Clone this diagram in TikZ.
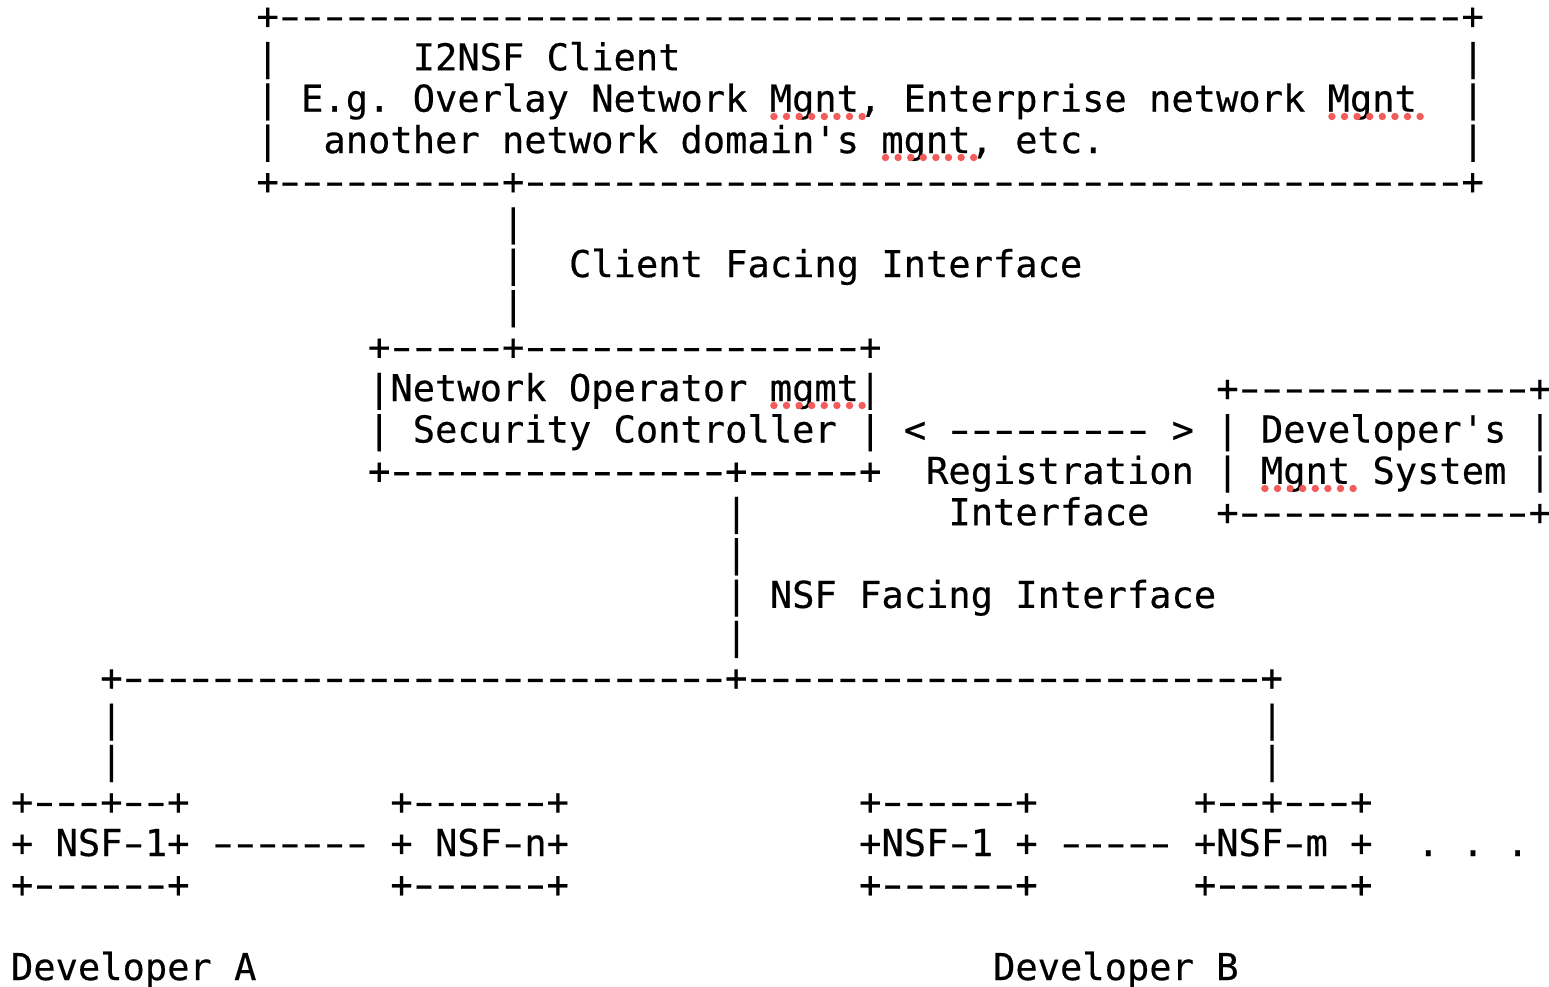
\documentclass[tikz,border=0pt]{standalone}
\usepackage{fontspec}
\usepackage{graphicx}
\setmonofont[FakeBold=0.4]{DejaVu Sans Mono}
\newcommand\hy{\makebox[0.602em]{\scalebox{1.55}[1]{-}}}
\ExplSyntaxOn
\cs_new:Npn \dsh #1 { \prg_replicate:nn {#1} {\hy} }
\ExplSyntaxOff
\definecolor{sqred}{RGB}{244,92,92}
\tikzset{asc/.style={anchor=base west, inner sep=0pt, outer sep=0pt, font=\ttfamily\fontsize{27.8pt}{27.8pt}\selectfont}}
\newcommand\at[4]{\node[asc] (#1) at ({11+22.32*#2},{29+41.35*#3}) {#4};}
\newcommand\squig[2]{\foreach \k in {0,...,7}{\fill[sqred] ({#1+4+12.6*\k},{#2}) circle (3.7);}}
\begin{document}
\begin{tikzpicture}[x=0.75pt,y=-0.75pt]
\fill[white] (0,0) rectangle (1549,986);
\useasboundingbox (0,0) rectangle (1549,986);
% I2NSF client box
\at{r0}{11}{0}{+\dsh{53}+}
\at{r1a}{11}{1}{|}
\at{r1b}{18}{1}{I2NSF Client}
\at{r1c}{65}{1}{|}
\at{r2a}{11}{2}{|}
\at{r2b}{13}{2}{E.g. Overlay Network Mgnt, Enterprise network Mgnt}
\at{r2c}{65}{2}{|}
\at{r3a}{11}{3}{|}
\at{r3b}{14}{3}{another network domain's mgnt, etc.}
\at{r3c}{65}{3}{|}
\at{r4}{11}{4}{+\dsh{10}+\dsh{42}+}
% client facing interface
\at{r5}{22}{5}{|}
\at{r6a}{22}{6}{|}
\at{r6b}{25}{6}{Client Facing Interface}
\at{r7}{22}{7}{|}
% security controller
\at{r8}{16}{8}{+\dsh{5}+\dsh{15}+}
\at{r9a}{16}{9}{|Network Operator mgmt|}
\at{r9b}{54}{9}{+\dsh{13}+}
\at{r10a}{16}{10}{|}
\at{r10b}{18}{10}{Security Controller}
\at{r10c}{38}{10}{|}
\at{r10d}{40}{10}{<}
\at{r10e}{42}{10}{\dsh{9}}
\at{r10f}{52}{10}{>}
\at{r10g}{54}{10}{|}
\at{r10h}{56}{10}{Developer's}
\at{r10i}{68}{10}{|}
\at{r11a}{16}{11}{+\dsh{15}+\dsh{5}+}
\at{r11b}{41}{11}{Registration}
\at{r11c}{54}{11}{|}
\at{r11d}{56}{11}{Mgnt System}
\at{r11e}{68}{11}{|}
\at{r12a}{32}{12}{|}
\at{r12b}{42}{12}{Interface}
\at{r12c}{54}{12}{+\dsh{13}+}
% NSF facing interface
\at{r13}{32}{13}{|}
\at{r14a}{32}{14}{|}
\at{r14b}{34}{14}{NSF Facing Interface}
\at{r15}{32}{15}{|}
\at{r16}{4}{16}{+\dsh{27}+\dsh{23}+}
\at{r17a}{4}{17}{|}
\at{r17b}{56}{17}{|}
\at{r18a}{4}{18}{|}
\at{r18b}{56}{18}{|}
% NSFs
\at{r19a}{0}{19}{+\dsh{3}+\dsh{2}+}
\at{r19b}{17}{19}{+\dsh{6}+}
\at{r19c}{38}{19}{+\dsh{6}+}
\at{r19d}{53}{19}{+\dsh{2}+\dsh{3}+}
\at{r20a}{0}{20}{+}
\at{r20b}{2}{20}{NSF\hy1+}
\at{r20c}{9}{20}{\dsh{7}}
\at{r20d}{17}{20}{+}
\at{r20e}{19}{20}{NSF\hy n+}
\at{r20f}{38}{20}{+NSF\hy1}
\at{r20g}{45}{20}{+}
\at{r20h}{47}{20}{\dsh{5}}
\at{r20i}{53}{20}{+NSF\hy m}
\at{r20j}{60}{20}{+}
\at{r20k}{63}{20}{.}
\at{r20l}{65}{20}{.}
\at{r20m}{67}{20}{.}
\at{r21a}{0}{21}{+\dsh{6}+}
\at{r21b}{17}{21}{+\dsh{6}+}
\at{r21c}{38}{21}{+\dsh{6}+}
\at{r21d}{53}{21}{+\dsh{6}+}
\at{r23a}{0}{23}{Developer A}
\at{r23b}{44}{23}{Developer B}
% spell-check squiggles
\squig{769.9}{116.5}
\squig{1327.9}{116.5}
\squig{881.5}{157.5}
\squig{769.9}{405.5}
\squig{1260.9}{488.5}
\end{tikzpicture}
\end{document}
